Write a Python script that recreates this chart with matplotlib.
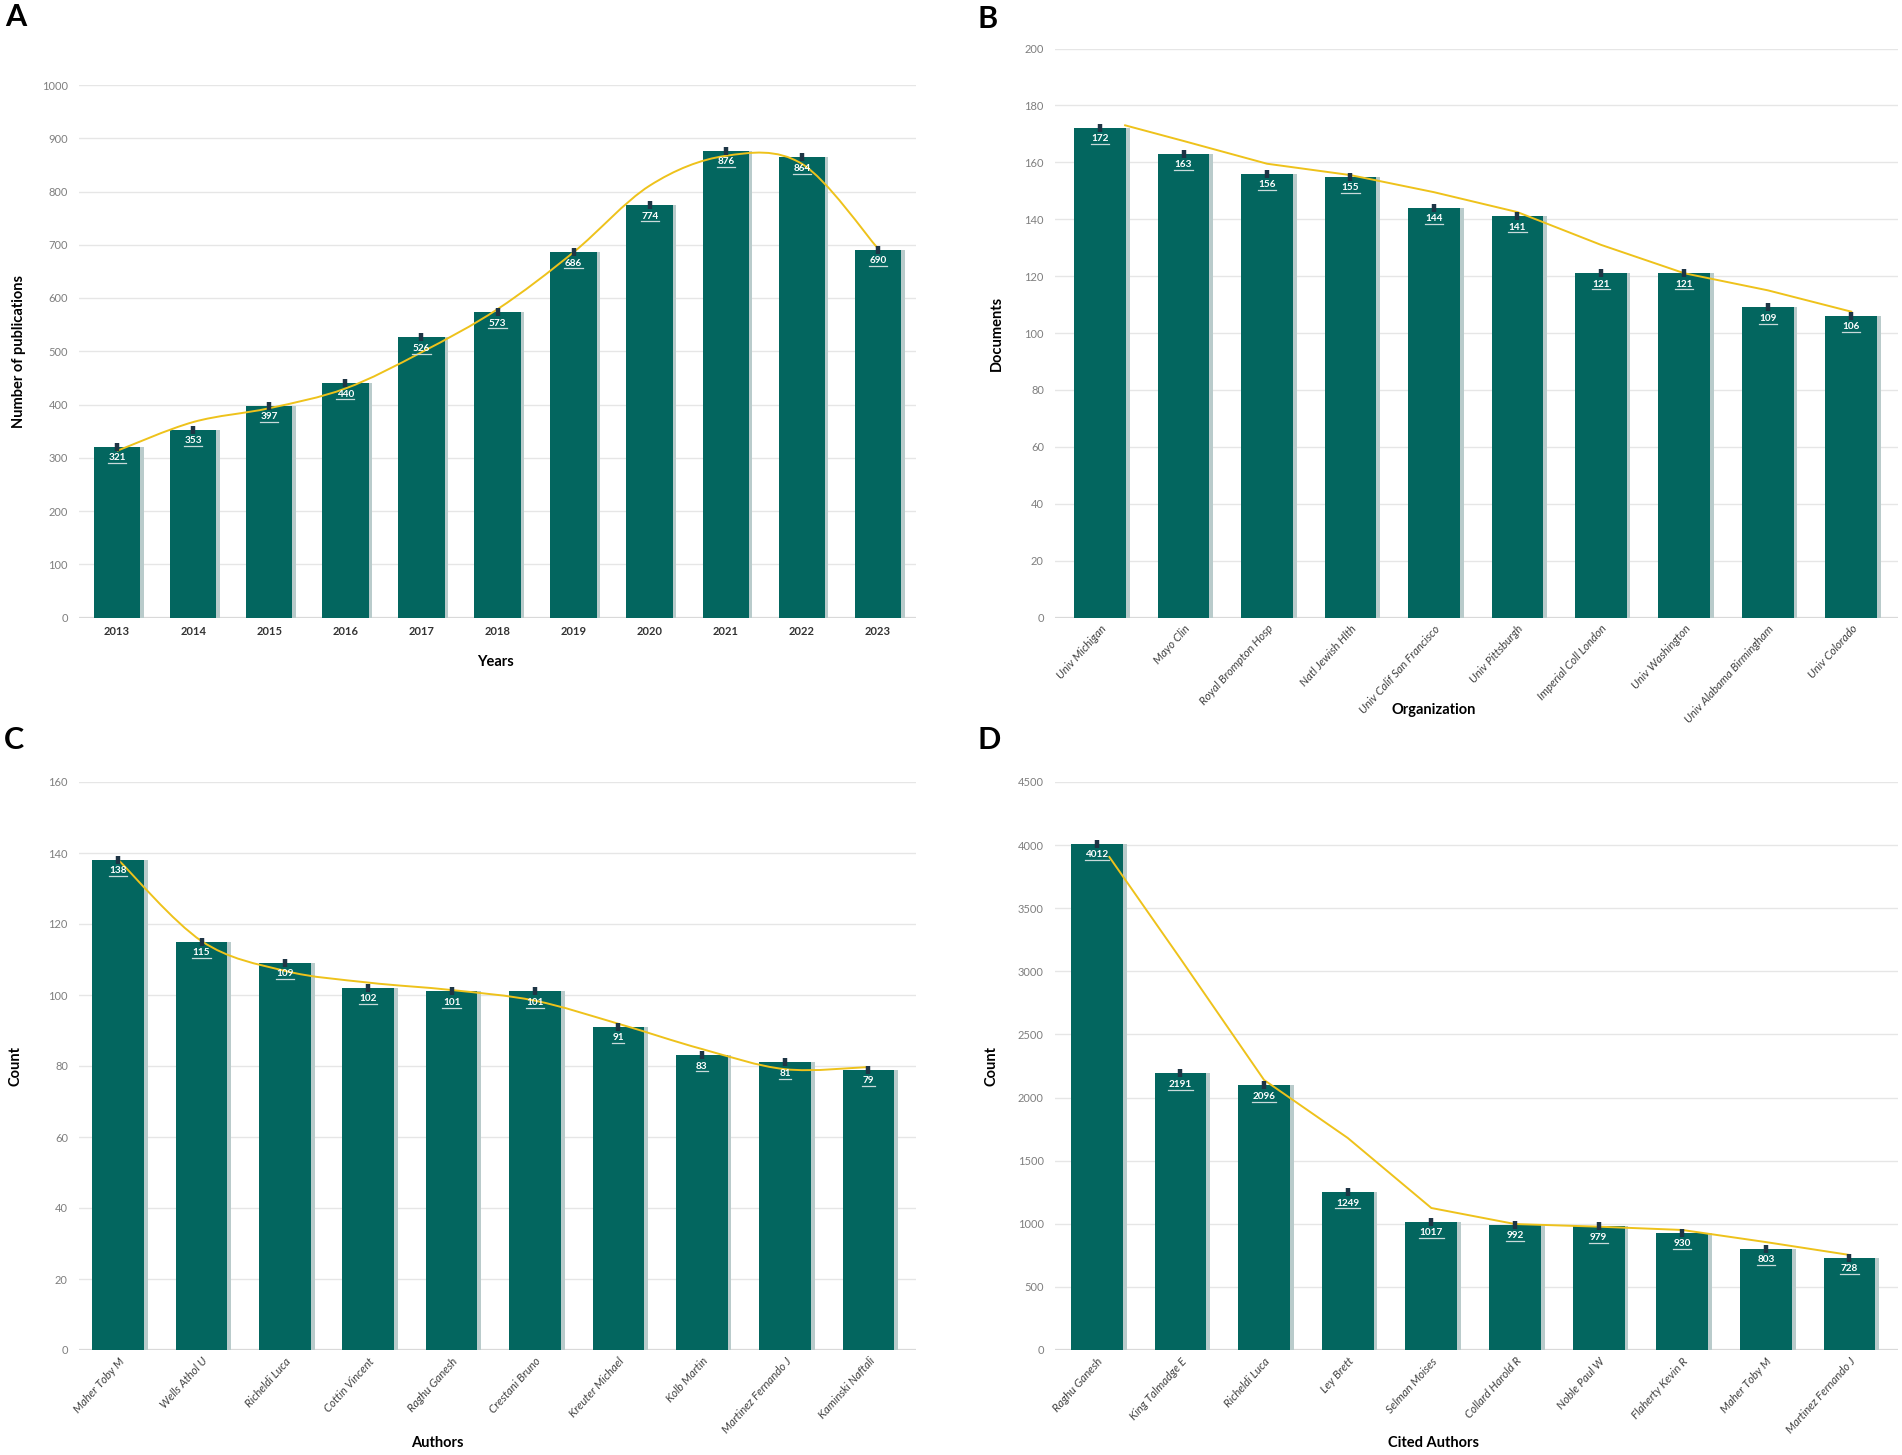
import numpy as np
import matplotlib
matplotlib.use('Agg')
import matplotlib.pyplot as plt
from matplotlib.path import Path
from matplotlib.patches import PathPatch
from matplotlib.lines import Line2D
import matplotlib.transforms as mtransforms

# ---------------- data ----------------
years = ['2013', '2014', '2015', '2016', '2017', '2018', '2019', '2020', '2021', '2022', '2023']
pubs = [321, 353, 397, 440, 526, 573, 686, 774, 876, 864, 690]
pubs_trend_x = [0, 1, 2, 3, 4, 5, 6, 7, 8, 9, 10]
pubs_trend = [313, 367, 393, 430, 498, 579, 686, 811, 867, 852, 693]

orgs = ['Univ Michigan', 'Mayo Clin', 'Royal Brompton Hosp', 'Natl Jewish Hlth',
        'Univ Calif San Francisco', 'Univ Pittsburgh', 'Imperial Coll London',
        'Univ Washington', 'Univ Alabama Birmingham', 'Univ Colorado']
docs = [172, 163, 156, 155, 144, 141, 121, 121, 109, 106]
docs_trend_x = [0.3, 1, 2, 3, 4, 5, 6, 7, 8, 9]
docs_trend = [173, 167.5, 159.5, 155.5, 149.5, 142.5, 131, 121, 115, 107.5]

authors = ['Maher Toby M', 'Wells Athol U', 'Richeldi Luca', 'Cottin Vincent',
           'Raghu Ganesh', 'Crestani Bruno', 'Kreuter Michael', 'Kolb Martin',
           'Martinez Fernando J', 'Kaminski Naftali']
auth_counts = [138, 115, 109, 102, 101, 101, 91, 83, 81, 79]
auth_trend_x = [0, 1, 2, 3, 4, 5, 6, 7, 8, 9]
auth_trend = [138.1, 115.2, 106.8, 103.5, 101.4, 98.4, 91.9, 84.8, 79.1, 79.7]

cited = ['Raghu Ganesh', 'King Talmadge E', 'Richeldi Luca', 'Ley Brett',
         'Selman Moises', 'Collard Harold R', 'Noble Paul W', 'Flaherty Kevin R',
         'Maher Toby M', 'Martinez Fernando J']
cited_counts = [4012, 2191, 2096, 1249, 1017, 992, 979, 930, 803, 728]
cited_trend_x = [0.15, 1, 2, 3, 4, 5, 6, 7, 8, 9]
cited_trend = [3906, 3100, 2139, 1680, 1125, 998, 977, 951, 855, 753]

# ---------------- style ----------------
plt.rcParams['font.family'] = ['Lato', 'DejaVu Sans']
BAR = '#03665F'
SHADOW = '#b9cbcb'
TREND = '#EEC21B'
MARK = '#1e3545'
GRID = '#e6e6e6'

W, H = 1902, 1455
fig = plt.figure(figsize=(W / 100, H / 100), dpi=100)


def px_axes(x0, x1, ytop, ybot):
    return fig.add_axes([x0 / W, 1 - ybot / H, (x1 - x0) / W, (ybot - ytop) / H])


def smooth_path(xs, ys):
    xs = np.asarray(xs, float)
    ys = np.asarray(ys, float)
    pts = np.column_stack([xs, ys])
    n = len(pts)
    verts = [pts[0]]
    codes = [Path.MOVETO]
    for i in range(n - 1):
        p0 = pts[i - 1] if i > 0 else pts[i]
        p1 = pts[i]
        p2 = pts[i + 1]
        p3 = pts[i + 2] if i + 2 < n else pts[i + 1]
        c1 = p1 + (p2 - p0) / 6.0
        c2 = p2 - (p3 - p1) / 6.0
        verts += [c1, c2, p2]
        codes += [Path.CURVE4] * 3
    return Path(verts, codes)


def panel(ax, cats, vals, tx, ty, yticks, xlim, rot, smooth, width=0.62):
    x = np.arange(len(cats))
    ax.set_xlim(*xlim)
    ax.set_ylim(yticks[0], yticks[-1])
    ax.set_yticks(yticks)
    ax.yaxis.grid(True, color=GRID, lw=1.0)
    ax.set_axisbelow(True)
    for s in ax.spines.values():
        s.set_visible(False)
    ax.axhline(0, color='#d9d9d9', lw=1.6, zorder=1)
    ax.bar(x + 0.045, vals, width, color=SHADOW, zorder=2)
    ax.bar(x, vals, width, color=BAR, zorder=3)
    if smooth:
        ax.add_patch(PathPatch(smooth_path(tx, ty), facecolor='none',
                               edgecolor=TREND, lw=1.4, zorder=4))
    else:
        ax.plot(tx, ty, color=TREND, lw=1.4, zorder=4)
    ax.plot(x, vals, ls='none', marker='|', markersize=6, mew=3.2,
            color=MARK, zorder=5)
    for xi, v in zip(x, vals):
        s = str(v)
        ax.annotate(s, (xi, v), xytext=(0, -7.8),
                    textcoords='offset points', ha='center', va='center',
                    color='white', fontsize=7.2, fontweight='bold', zorder=6)
        hw = 2.2 * len(s)
        tr = (mtransforms.Affine2D().scale(fig.dpi / 72.0)
              + mtransforms.ScaledTranslation(xi, v, ax.transData))
        ln = Line2D([-hw, hw], [-11.6, -11.6], color='#c9dada', lw=0.9,
                    transform=tr, zorder=6)
        ax.add_line(ln)
    ax.tick_params(axis='both', length=0)
    ax.tick_params(axis='y', pad=8, labelsize=8, labelcolor='#7f7f7f')
    ax.set_xticks(x)
    if rot:
        ax.set_xticklabels(cats, rotation=48, ha='right', rotation_mode='anchor',
                           fontsize=8.2, style='italic', color='#404040')
        ax.tick_params(axis='x', pad=4)
    else:
        ax.set_xticklabels(cats, fontsize=8, color='#333333', fontweight='bold')
        ax.tick_params(axis='x', pad=6)


axA = px_axes(79, 916, 85, 617.5)
panel(axA, years, pubs, pubs_trend_x, pubs_trend, list(range(0, 1001, 100)),
      (-0.5, 10.5), False, True, width=0.61)

axB = px_axes(1055, 1898, 48.5, 617.5)
panel(axB, orgs, docs, docs_trend_x, docs_trend, list(range(0, 201, 20)),
      (-0.54, 9.56), True, False)

axC = px_axes(79, 916, 782, 1350)
panel(axC, authors, auth_counts, auth_trend_x, auth_trend, list(range(0, 161, 20)),
      (-0.47, 9.57), True, True)

axD = px_axes(1055, 1898, 782, 1350)
panel(axD, cited, cited_counts, cited_trend_x, cited_trend, list(range(0, 4501, 500)),
      (-0.5, 9.58), True, False)


def ftext(xp, yp, s, **kw):
    fig.text(xp / W, 1 - yp / H, s, **kw)


lab = dict(fontsize=10.5, fontweight='bold', color='black', ha='center', va='center')
ftext(495, 662, 'Years', **lab)
ftext(1434, 710, 'Organization', **lab)
ftext(437, 1443, 'Authors', **lab)
ftext(1433, 1443, 'Cited Authors', **lab)
ftext(19, 351, 'Number of publications', rotation=90, **lab)
ftext(997, 333, 'Documents', rotation=90, **lab)
ftext(15, 1066, 'Count', rotation=90, **lab)
ftext(992, 1066, 'Count', rotation=90, **lab)

let = dict(fontsize=22, fontweight='bold', color='black', ha='left', va='top')
ftext(5, 3, 'A', **let)
ftext(978, 5, 'B', **let)
ftext(4, 726, 'C', **let)
ftext(978, 726, 'D', **let)

fig.savefig('out.png', dpi=100)
